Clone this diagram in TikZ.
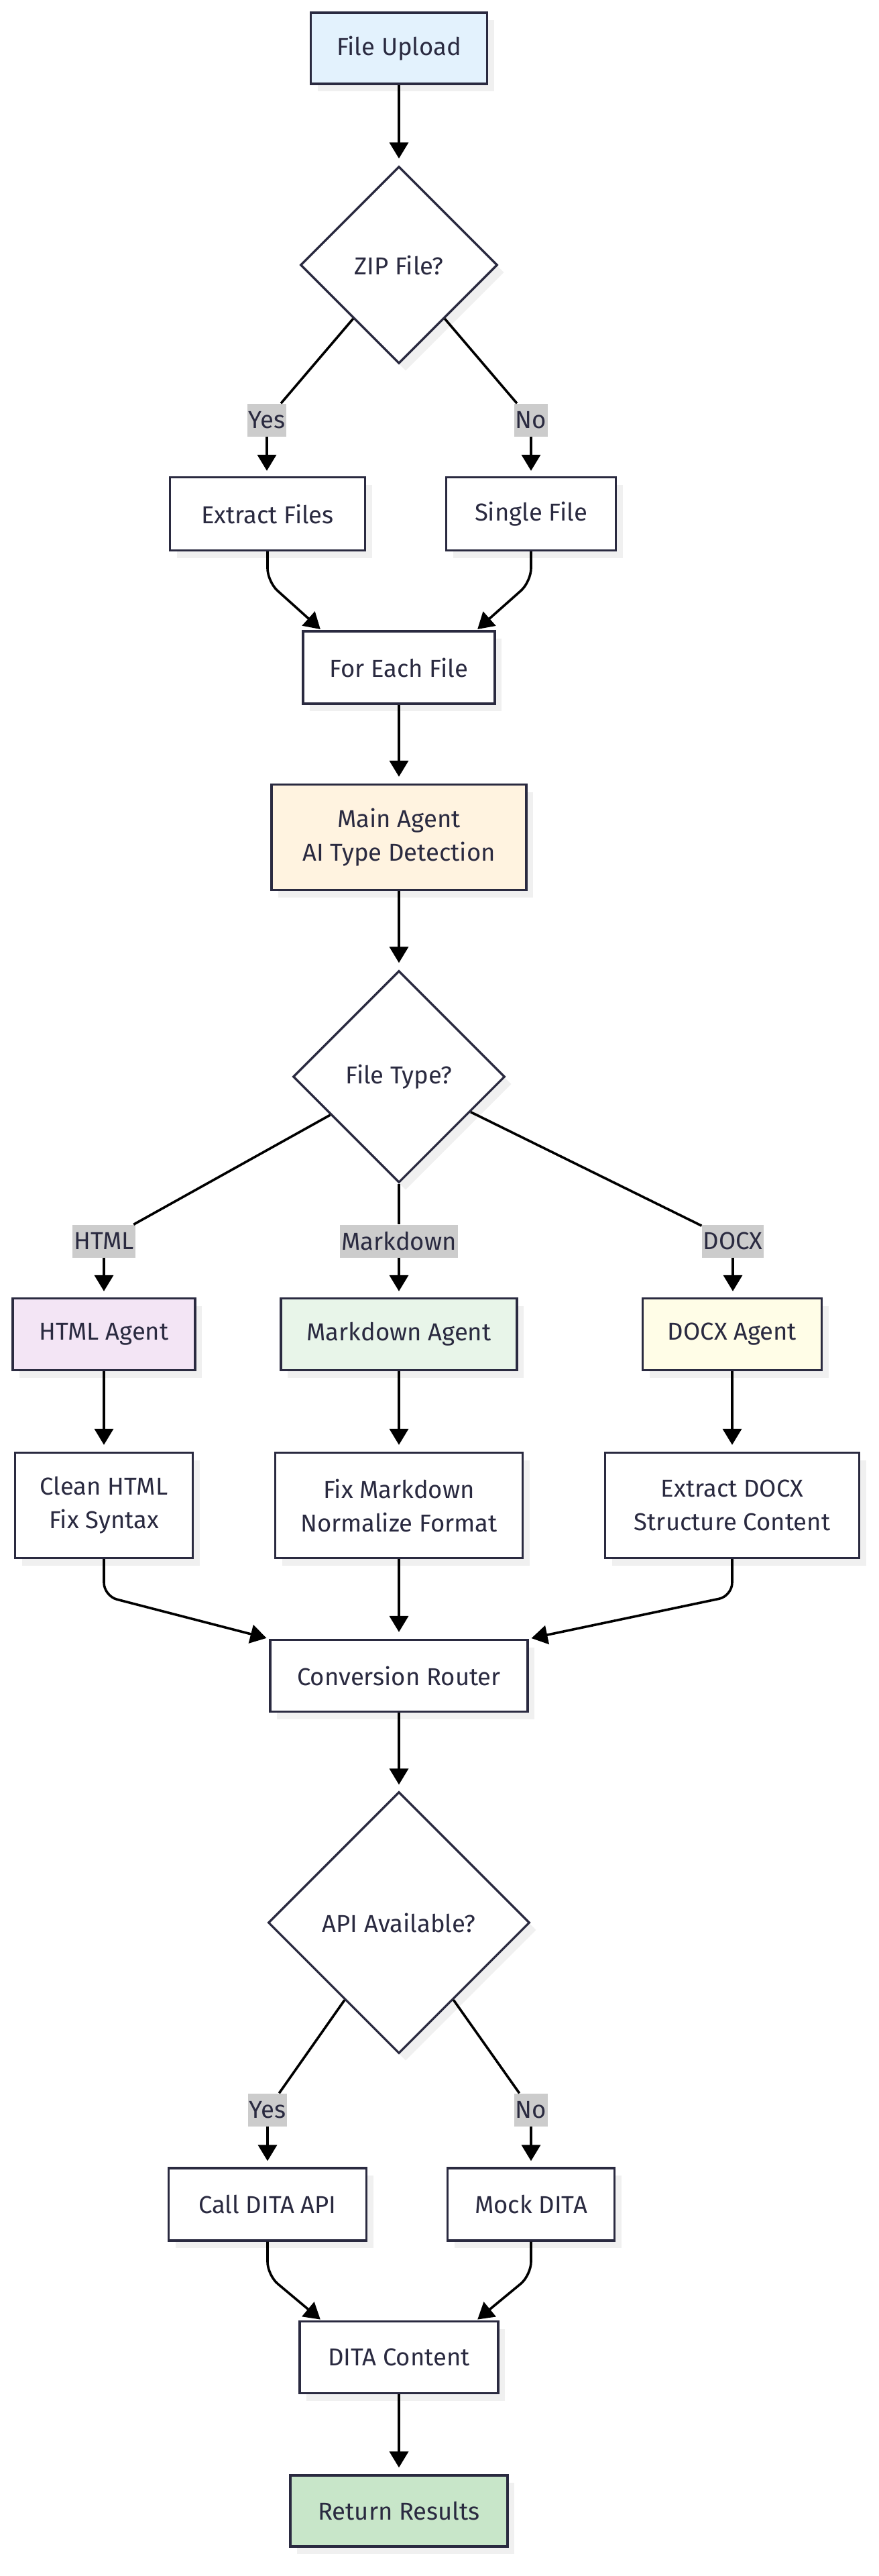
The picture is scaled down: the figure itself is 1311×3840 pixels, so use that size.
\documentclass[tikz,border=0pt]{standalone}
\usepackage{fontspec}
\setmainfont{Fira Sans}
\usetikzlibrary{shapes.geometric,arrows.meta,shadows,calc}
\definecolor{ink}{RGB}{42,42,64}
\definecolor{lblgray}{RGB}{204,204,204}
\definecolor{cUpload}{HTML}{E3F2FD}
\definecolor{cMain}{HTML}{FFF3E0}
\definecolor{cHtml}{HTML}{F3E5F5}
\definecolor{cMd}{HTML}{E8F5E9}
\definecolor{cDocx}{HTML}{FFFDE7}
\definecolor{cRet}{HTML}{C8E6C9}
\tikzset{
  shd/.style={drop shadow={shadow xshift=10pt,shadow yshift=-11pt,fill=black!6,opacity=1}},
  box/.style={draw=ink,line width=3.3pt,fill=white,inner sep=0pt,align=center,shd},
  dia/.style={diamond,aspect=1,draw=ink,line width=3.3pt,fill=white,inner sep=0pt,align=center,shd},
  lbl/.style={fill=lblgray,inner xsep=2pt,inner ysep=0pt,minimum height=49pt},
  arr/.style={-{Triangle[width=28pt,length=24pt]},line width=3.6pt,black},
  ln/.style={line width=3.6pt,black}
}
\begin{document}
\begin{tikzpicture}[x=1pt,y=-1pt,every node/.style={font=\fontsize{36.5}{50}\selectfont,text=ink}]
\useasboundingbox[fill=white] (0,0) rectangle (1311,3840);

% nodes
\node[box,fill=cUpload,minimum width=263pt,minimum height=106pt] (upload) at (595,72) {File Upload};
\node[dia,minimum width=294pt,minimum height=294pt] (zip) at (595,395) {ZIP File?};
\node[lbl] (yes1) at (398,626) {Yes};
\node[lbl] (no1) at (792,626) {No};
\node[box,minimum width=291pt,minimum height=109pt] (extract) at (399,766) {Extract Files};
\node[box,minimum width=253pt,minimum height=109pt] (single) at (792,766) {Single File};
\node[box,minimum width=286pt,minimum height=108pt] (foreach) at (595,995) {For Each File};
\node[box,fill=cMain,minimum width=380pt,minimum height=157pt] (main) at (595,1248) {Main Agent\\AI Type Detection};
\node[dia,minimum width=316pt,minimum height=316pt] (ftype) at (595,1605) {File Type?};
\node[lbl] (htmlL) at (155,1850) {HTML};
\node[lbl] (mdL) at (595,1850) {Markdown};
\node[lbl] (docxL) at (1093,1850) {DOCX};
\node[box,fill=cHtml,minimum width=272pt,minimum height=107pt] (htmlA) at (155,1989) {HTML Agent};
\node[box,fill=cMd,minimum width=352pt,minimum height=107pt] (mdA) at (595,1989) {Markdown Agent};
\node[box,fill=cDocx,minimum width=267pt,minimum height=107pt] (docxA) at (1092,1989) {DOCX Agent};
\node[box,minimum width=265pt,minimum height=157pt] (clean) at (155,2244) {Clean HTML\\Fix Syntax};
\node[box,minimum width=369pt,minimum height=157pt] (fixmd) at (595,2244) {Fix Markdown\\Normalize Format};
\node[box,minimum width=379pt,minimum height=157pt] (extdocx) at (1092,2244) {Extract DOCX\\Structure Content};
\node[box,minimum width=384pt,minimum height=107pt] (router) at (595,2498) {Conversion Router};
\node[dia,minimum width=390pt,minimum height=390pt] (api) at (595,2866) {API Available?};
\node[lbl] (yes2) at (399,3145) {Yes};
\node[lbl] (no2) at (792,3145) {No};
\node[box,minimum width=295pt,minimum height=108pt] (call) at (399,3286) {Call DITA API};
\node[box,minimum width=249pt,minimum height=108pt] (mock) at (792,3286) {Mock DITA};
\node[box,minimum width=296pt,minimum height=107pt] (dita) at (595,3514) {DITA Content};
\node[box,fill=cRet,minimum width=324pt,minimum height=106pt] (ret) at (595,3743) {Return Results};

% edges
\draw[arr,shorten >=10pt] (upload) -- (zip);
\draw[ln] (zip) -- (yes1);
\draw[ln] (zip) -- (no1);
\draw[arr,shorten >=8pt] (yes1.south) -- (yes1.south |- extract.north);
\draw[arr,shorten >=8pt] (no1.south) -- (no1.south |- single.north);
\draw[arr,rounded corners=20pt,shorten >=2pt] (extract.south) -- ++(0,45) -- ($(foreach.north west)+(29,0)$);
\draw[arr,rounded corners=20pt,shorten >=2pt] (single.south) -- ++(0,45) -- ($(foreach.north east)+(-29,0)$);
\draw[arr,shorten >=10pt] (foreach) -- (main);
\draw[arr,shorten >=10pt] (main) -- (ftype);
\draw[ln] (ftype) -- (htmlL);
\draw[ln] (ftype) -- (mdL);
\draw[ln] (ftype) -- (docxL);
\draw[arr,shorten >=9pt] (htmlL.south) -- (htmlL.south |- htmlA.north);
\draw[arr,shorten >=9pt] (mdL.south) -- (mdL.south |- mdA.north);
\draw[arr,shorten >=9pt] (docxL.south) -- (docxL.south |- docxA.north);
\draw[arr,shorten >=10pt] (htmlA) -- (clean);
\draw[arr,shorten >=10pt] (mdA) -- (fixmd);
\draw[arr,shorten >=10pt] (docxA) -- (extdocx);
\draw[arr,rounded corners=20pt,shorten >=4pt] (clean.south) -- ++(0,55) -- (router.north west);
\draw[arr,shorten >=10pt] (fixmd) -- (router);
\draw[arr,rounded corners=20pt,shorten >=4pt] (extdocx.south) -- ++(0,55) -- (router.north east);
\draw[arr,shorten >=9pt] (router) -- (api);
\draw[ln] (api) -- (yes2);
\draw[ln] (api) -- (no2);
\draw[arr,shorten >=9pt] (yes2.south) -- (yes2.south |- call.north);
\draw[arr,shorten >=9pt] (no2.south) -- (no2.south |- mock.north);
\draw[arr,rounded corners=20pt,shorten >=2pt] (call.south) -- ++(0,50) -- ($(dita.north west)+(34,0)$);
\draw[arr,rounded corners=20pt,shorten >=2pt] (mock.south) -- ++(0,50) -- ($(dita.north east)+(-34,0)$);
\draw[arr,shorten >=10pt] (dita) -- (ret);
\end{tikzpicture}
\end{document}
